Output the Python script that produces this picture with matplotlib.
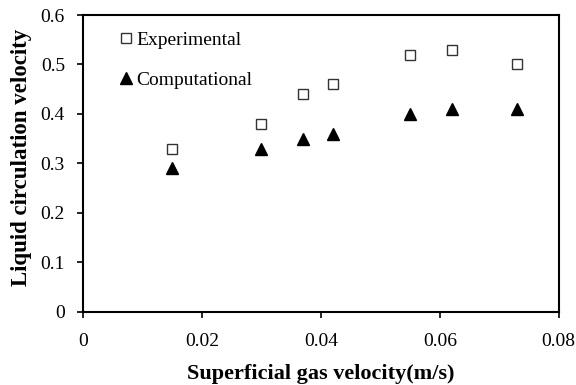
import matplotlib.pyplot as plt

plt.rcParams['font.family'] = 'Liberation Serif'

# Superficial gas velocity (m/s)
gas_velocity = [0.015, 0.030, 0.037, 0.042, 0.055, 0.062, 0.073]
# Liquid circulation velocity
experimental = [0.33, 0.38, 0.44, 0.46, 0.52, 0.53, 0.50]
computational = [0.29, 0.33, 0.35, 0.36, 0.40, 0.41, 0.41]

fig = plt.figure(figsize=(5.76, 3.85), dpi=100)
ax = fig.add_axes([0.144, 0.190, 0.826, 0.771])

ax.plot(gas_velocity, experimental, linestyle='none', marker='s', markersize=7,
        markerfacecolor='white', markeredgecolor='#333333', markeredgewidth=1.0,
        label='Experimental')
ax.plot(gas_velocity, computational, linestyle='none', marker='^', markersize=8,
        color='black', label='Computational')

ax.set_xlim(0, 0.08)
ax.set_ylim(0, 0.6)
ax.set_xticks([0, 0.02, 0.04, 0.06, 0.08])
ax.set_xticklabels(['0', '0.02', '0.04', '0.06', '0.08'])
ax.set_yticks([0, 0.1, 0.2, 0.3, 0.4, 0.5, 0.6])
ax.set_yticklabels(['0', '0.1', '0.2', '0.3', '0.4', '0.5', '0.6'])
ax.tick_params(labelsize=14, length=4, width=1.2)
ax.tick_params(axis='x', pad=11)
ax.tick_params(axis='y', pad=9)
for s in ax.spines.values():
    s.set_linewidth(1.5)

ax.set_xlabel('Superficial gas velocity(m/s)', fontsize=16, fontweight='bold', labelpad=10)
ax.set_ylabel('Liquid circulation velocity', fontsize=16.5, fontweight='bold')
ax.yaxis.set_label_coords(-0.108, 0.52)

ax.legend(loc='upper left', frameon=False, fontsize=14, handlelength=0.7,
          handletextpad=0.15, labelspacing=1.15, bbox_to_anchor=(0.04, 1.005))

fig.savefig('out.png', dpi=100)
